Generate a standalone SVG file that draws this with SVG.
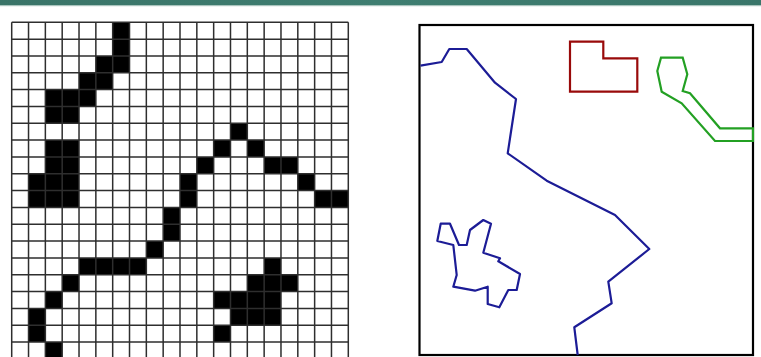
<svg xmlns="http://www.w3.org/2000/svg" width="761" height="357" viewBox="0 0 761 357">
<defs>
<linearGradient id="band" x1="0" y1="0" x2="1" y2="0">
<stop offset="0" stop-color="#3a7468"/>
<stop offset="0.5" stop-color="#3f7e71"/>
<stop offset="1" stop-color="#3a766a"/>
</linearGradient>
</defs>
<style>
.grid{fill:none;stroke:#2e2e2e;stroke-width:1.5;vector-effect:non-scaling-stroke}
.cells{fill:#000;stroke:none}
.frame{fill:none;stroke:#000;stroke-width:2.2}
.blue{fill:none;stroke:#1c1c96;stroke-width:2.2;stroke-linejoin:round}
.red{fill:none;stroke:#990a0a;stroke-width:2.2}
.green{fill:none;stroke:#23a023;stroke-width:2.2}
</style>
<rect x="0" y="0" width="761" height="357" fill="#fff"/>
<rect x="0" y="0" width="761" height="5" fill="url(#band)"/>
<rect x="0" y="5" width="761" height="1.2" fill="#a9c4bd"/>
<g id="raster" transform="translate(11.7,22.3) scale(16.83)">
<path class="cells" d="M6 0h1v2h-1z M5 2h2v1h-2z M4 3h2v1h-2z M2 4h3v1h-3z M2 5h2v1h-2z M13 6h1v1h-1z M2 7h2v2h-2z M12 7h1v1h-1z M14 7h1v1h-1z M11 8h1v1h-1z M15 8h2v1h-2z M1 9h3v2h-3z M10 9h1v2h-1z M17 9h1v1h-1z M18 10h2v1h-2z M9 11h1v2h-1z M8 13h1v1h-1z M4 14h4v1h-4z M15 14h1v1h-1z M3 15h1v1h-1z M14 15h3v1h-3z M2 16h1v1h-1z M12 16h4v1h-4z M1 17h1v2h-1z M13 17h3v1h-3z M12 18h1v1h-1z M2 19h1v1h-1z"/>
<path class="grid" d="M0 0V20M1 0V20M2 0V20M3 0V20M4 0V20M5 0V20M6 0V20M7 0V20M8 0V20M9 0V20M10 0V20M11 0V20M12 0V20M13 0V20M14 0V20M15 0V20M16 0V20M17 0V20M18 0V20M19 0V20M20 0V20 M0 0H20M0 1H20M0 2H20M0 3H20M0 4H20M0 5H20M0 6H20M0 7H20M0 8H20M0 9H20M0 10H20M0 11H20M0 12H20M0 13H20M0 14H20M0 15H20M0 16H20M0 17H20M0 18H20M0 19H20M0 20H20"/>
</g>
<g id="vector">
<rect class="frame" x="419.5" y="25" width="333.5" height="330"/>
<polyline class="blue" points="420.5,65.7 441.7,62 449.3,49 466.7,49 495,82.7 516,99 507.7,153.3 546.7,180.7 615,215 649.3,249 608.3,281.7 611.7,303.3 574.3,327.3 577.7,355"/>
<polygon class="blue" points="440.7,223.7 450,223.7 459,245 466.7,245 470,230 483.3,220 491,223.7 483.3,252.7 500,258.3 498.3,261.3 520,274 516.7,290 508.3,290 499.3,307.3 487.7,304 487.7,286.7 475,290.7 453.3,286.7 456.7,275 453.3,245 437.3,241"/>
<polygon class="red" points="570,41.7 603.3,41.7 603.3,58.3 637.3,58.3 637.3,91.7 570,91.7"/>
<polygon class="green" points="661,57.7 682.7,57.7 687.3,74.3 682.7,91 690,93.3 720,128.3 753,128.3 753,141 715,141 681.7,103.3 661.7,91.7 657.3,71"/>
</g>
</svg>
